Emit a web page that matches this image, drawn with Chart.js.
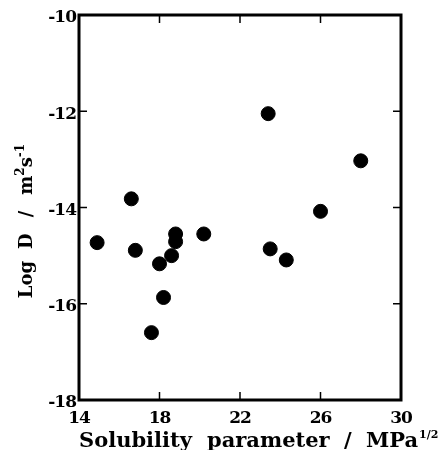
<!DOCTYPE html>
<html>
<head>
<meta charset="utf-8">
<script src="https://cdn.jsdelivr.net/npm/chart.js@4.4.0/dist/chart.umd.min.js"></script>
<style>
  html, body { margin: 0; padding: 0; background: #fff; }
  #wrap { width: 442px; height: 450px; }
</style>
</head>
<body>
<div id="wrap"><canvas id="chart" width="442" height="450"></canvas></div>
<script>
// Solubility parameter (MPa^1/2) vs Log D (m^2 s^-1)
const solubility = [23.4, 16.6, 26.0, 14.9, 16.8, 18.8, 18.8, 20.2, 18.6, 18.0, 23.5, 24.3, 18.2, 17.6, 28.0];
const logD = [-12.05, -13.82, -14.08, -14.73, -14.89, -14.55, -14.71, -14.55, -15.0, -15.17, -14.86, -15.09, -15.87, -16.6, -13.03];

const xTicks = [14, 18, 22, 26, 30];
const yTicks = [-18, -16, -14, -12, -10];

const FONT = '"DejaVu Serif", "Liberation Serif", serif';

// frame, inward ticks and axis titles
const framePlugin = {
    id: 'frame',
    beforeDraw(chart) {
        // tighter tick labels, the original font is set close
        chart.ctx.letterSpacing = '-1px';
    },
    afterDraw(chart) {
        const { ctx, chartArea: a, scales } = chart;
        ctx.save();
        ctx.letterSpacing = '0px';
        ctx.strokeStyle = '#000';
        ctx.lineWidth = 3;
        ctx.strokeRect(a.left, a.top, a.right - a.left, a.bottom - a.top);

        ctx.lineWidth = 1.5;
        ctx.beginPath();
        xTicks.forEach(v => {
            const x = scales.x.getPixelForValue(v);
            ctx.moveTo(x, a.bottom); ctx.lineTo(x, a.bottom - 8);
            ctx.moveTo(x, a.top); ctx.lineTo(x, a.top + 8);
        });
        yTicks.forEach(v => {
            const y = scales.y.getPixelForValue(v);
            ctx.moveTo(a.left, y); ctx.lineTo(a.left + 8, y);
            ctx.moveTo(a.right, y); ctx.lineTo(a.right - 8, y);
        });
        ctx.stroke();

        ctx.fillStyle = '#000';
        // x title, words spread like the original
        ctx.textBaseline = 'alphabetic';
        ctx.textAlign = 'left';
        ctx.font = 'bold 21px ' + FONT;
        const by = 447;
        ctx.fillText('Solubility', 79, by);
        ctx.fillText('parameter', 207, by);
        ctx.fillText('/', 344, by);
        ctx.fillText('MPa', 366, by);
        const mpaEnd = 366 + ctx.measureText('MPa').width;
        ctx.font = 'bold 11px ' + FONT;
        ctx.fillText('1/2', mpaEnd + 1, by - 9);

        // y title
        ctx.translate(32, 221);
        ctx.rotate(-Math.PI / 2);
        ctx.font = 'bold 18px ' + FONT;
        const yparts = ['Log', 'D', '/', 'm'];
        const ygaps = [12, 16, 16];
        const widths = yparts.map(p => ctx.measureText(p).width);
        const ws = ctx.measureText('s').width;
        ctx.font = 'bold 12px ' + FONT;
        const w2 = ctx.measureText('2').width;
        const wm1 = ctx.measureText('-1').width;
        const total = widths.reduce((s, w) => s + w, 0) + ygaps.reduce((s, g) => s + g, 0) + w2 + ws + wm1;
        let px = -total / 2;
        ctx.font = 'bold 18px ' + FONT;
        yparts.forEach((p, i) => {
            ctx.fillText(p, px, 0);
            px += widths[i] + (ygaps[i] || 0);
        });
        ctx.font = 'bold 12px ' + FONT;
        ctx.fillText('2', px, -8);
        px += w2;
        ctx.font = 'bold 18px ' + FONT;
        ctx.fillText('s', px, 0);
        px += ws;
        ctx.font = 'bold 12px ' + FONT;
        ctx.fillText('-1', px, -8);
        ctx.restore();
    }
};

new Chart(document.getElementById('chart'), {
    type: 'scatter',
    data: {
        datasets: [{
            data: solubility.map((s, i) => ({ x: s, y: logD[i] })),
            backgroundColor: '#000',
            borderColor: '#000',
            pointRadius: 7,
            pointHoverRadius: 7
        }]
    },
    options: {
        responsive: false,
        animation: false,
        events: [],
        layout: { padding: { left: 0, top: 15, right: 41, bottom: 0 } },
        plugins: { legend: { display: false }, tooltip: { enabled: false } },
        scales: {
            x: {
                type: 'linear',
                min: 14, max: 30,
                afterFit: s => { s.height = 50; },
                afterBuildTicks: s => { s.ticks = xTicks.map(v => ({ value: v })); },
                grid: { display: false, drawTicks: false },
                border: { display: false },
                ticks: { color: '#000', padding: 8, font: { family: FONT, size: 17, weight: 'bold' } }
            },
            y: {
                type: 'linear',
                min: -18, max: -10,
                afterFit: s => { s.width = 79; },
                afterBuildTicks: s => { s.ticks = yTicks.map(v => ({ value: v })); },
                grid: { display: false, drawTicks: false },
                border: { display: false },
                ticks: { color: '#000', padding: 3, labelOffset: 3, font: { family: FONT, size: 17, weight: 'bold' } }
            }
        }
    },
    plugins: [framePlugin]
});
</script>
</body>
</html>
